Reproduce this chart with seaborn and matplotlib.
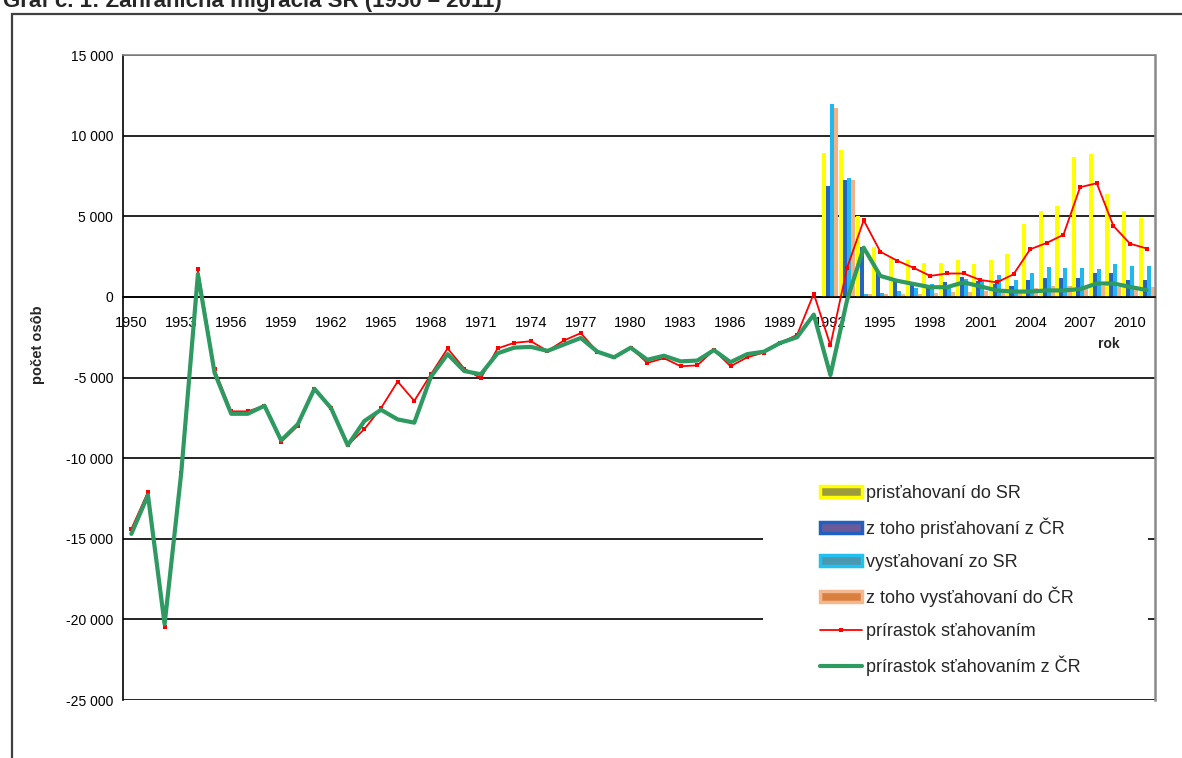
import numpy as np
import pandas as pd
import matplotlib
matplotlib.use("Agg")
import matplotlib.pyplot as plt
import matplotlib.patches as mpatches
from matplotlib.lines import Line2D
from matplotlib.ticker import FuncFormatter
import seaborn as sns

# roky 1950-2011
years = list(range(1950, 2012))

# prirastok stahovanim (SR celkom)
growth_total = [-14400, -12100, -20500, -10900, 1700, -4500, -7100, -7100, -6750, -9000,
                -8000, -5700, -6900, -9200, -8200, -6900, -5250, -6450, -4800, -3200,
                -4450, -5050, -3200, -2850, -2750, -3350, -2700, -2250, -3400, -3750,
                -3150, -4100, -3800, -4300, -4250, -3300, -4300, -3750, -3450, -2850,
                -2350, 200, -3000, 1800, 4750, 2800, 2250, 1800, 1300, 1450,
                1450, 1050, 900, 1400, 2950, 3350, 3850, 6800, 7050, 4400,
                3300, 3000]

# prirastok stahovanim z CR
growth_cz = [-14700, -12300, -20300, -10900, 1400, -4700, -7250, -7250, -6750, -8900,
             -7900, -5700, -6900, -9200, -7700, -7000, -7600, -7800, -4950, -3550,
             -4600, -4800, -3500, -3150, -3100, -3350, -2950, -2550, -3400, -3750,
             -3150, -3900, -3650, -4000, -3950, -3300, -4050, -3550, -3400, -2850,
             -2500, -1100, -4850, -200, 3050, 1300, 1000, 800, 600, 600,
             900, 650, 400, 330, 330, 400, 400, 480, 830, 830,
             620, 420]

# stlpce 1992-2011
bar_years = list(range(1992, 2012))
immig_sr = [8950, 9100, 5000, 3100, 2450, 2300, 2100, 2100, 2300, 2050,
            2300, 2650, 4500, 5350, 5650, 8650, 8850, 6350, 5300, 4900]
immig_cz = [6850, 7250, 3100, 1500, 1100, 900, 750, 900, 1250, 1000,
            800, 650, 1050, 1150, 1150, 1150, 1500, 1500, 1050, 1050]
emig_sr = [11950, 7350, 200, 270, 350, 550, 800, 700, 1100, 1050,
           1350, 1050, 1500, 1850, 1800, 1800, 1750, 2050, 1900, 1900]
emig_cz = [11700, 7250, 150, 150, 200, 200, 250, 300, 300, 350,
           400, 400, 550, 700, 700, 650, 650, 600, 550, 600]

bar_labels = ["prisťahovaní do SR", "z toho prisťahovaní z ČR",
              "vysťahovaní zo SR", "z toho vysťahovaní do ČR"]
line_labels = ["prírastok sťahovaním", "prírastok sťahovaním z ČR"]

bar_colors = ["#FFFF00", "#2563C4", "#22B8EE", "#F4B183"]

sns.set_style("white")
plt.rcParams["font.family"] = ["Liberation Sans", "DejaVu Sans"]

fig = plt.figure(figsize=(11.82, 7.58), dpi=100)
ax = fig.add_axes([123 / 1182, 1 - 700 / 758, 1032 / 1182, 645 / 758])

bars = pd.DataFrame({
    "rok": bar_years * 4,
    "hodnota": immig_sr + immig_cz + emig_sr + emig_cz,
    "seria": np.repeat(bar_labels, len(bar_years)),
})
sns.barplot(data=bars, x="rok", y="hodnota", hue="seria", hue_order=bar_labels,
            palette=bar_colors, native_scale=True, width=0.97, gap=0, dodge=True,
            saturation=1, errorbar=None, legend=False, linewidth=0, zorder=2, ax=ax)

sns.lineplot(x=years, y=growth_total, color="#FF0000", lw=1.3, marker="s",
             markersize=2.5, markeredgewidth=0, zorder=4, ax=ax)
sns.lineplot(x=years, y=growth_cz, color="#2E9960", lw=3, zorder=5, ax=ax)

ax.set_xlim(1949.5, 2011.5)
ax.set_ylim(-25000, 15000)
ax.set_yticks(np.arange(-25000, 15001, 5000))
ax.yaxis.set_major_formatter(FuncFormatter(lambda v, p: f"{int(v):,}".replace(",", " ")))
ax.yaxis.grid(True, color="black", lw=1.2)
ax.xaxis.grid(False)
ax.set_axisbelow(True)

ax.set_xticks(list(range(1950, 2012, 3)))
ax.set_xticklabels([str(y) for y in range(1950, 2012, 3)])
ax.set_xticks(np.arange(1950.5, 2011.5, 1), minor=True)
ax.tick_params(axis="x", which="major", length=0, pad=14, labelsize=10.5, colors="black")
ax.tick_params(axis="x", which="minor", length=4, width=1.2, direction="out", color="black")
ax.tick_params(axis="y", length=4, width=1.2, direction="out", pad=3, labelsize=10, colors="black")
ax.set_xlabel("")
ax.set_ylabel("")

ax.spines["bottom"].set_position(("data", 0))
ax.spines["bottom"].set_color("black")
ax.spines["bottom"].set_linewidth(1.2)
ax.spines["left"].set_color("black")
ax.spines["left"].set_linewidth(1.2)
ax.spines["right"].set_color("#8a8a8a")
ax.spines["right"].set_linewidth(1.8)
ax.spines["top"].set_color("#8a8a8a")
ax.spines["top"].set_linewidth(1.2)

ax.text(2008.7, -2900, "rok", fontsize=10, fontweight="bold", ha="center", va="center")
fig.text(38 / 1182, 1 - 345 / 758, "počet osôb", fontsize=10.5, fontweight="bold",
         rotation=90, ha="center", va="center")

# biele pozadie legendy
ax.add_patch(mpatches.Rectangle((0.62, 0.015), 0.373, 0.357, transform=ax.transAxes,
                                facecolor="white", edgecolor="none", zorder=6))

handles = [
    mpatches.Patch(facecolor="#9c9c3c", edgecolor="#FFFF00", lw=2.5),
    mpatches.Patch(facecolor="#6a5a9a", edgecolor="#2060C0", lw=2.5),
    mpatches.Patch(facecolor="#4a98b0", edgecolor="#20C0F0", lw=2.5),
    mpatches.Patch(facecolor="#D98040", edgecolor="#F4B890", lw=2.5),
    Line2D([], [], color="#FF0000", lw=1.3, marker="s", markersize=3, markeredgewidth=0),
    Line2D([], [], color="#2E9960", lw=3),
]
leg = ax.legend(handles, bar_labels + line_labels, loc="upper left",
                bbox_to_anchor=(820 / 1182, 1 - 485 / 758), bbox_transform=fig.transFigure,
                frameon=False, fontsize=13, labelspacing=0.87, handlelength=2.3,
                handleheight=0.55, handletextpad=0.25, borderpad=0, borderaxespad=0,
                numpoints=1)
leg.set_zorder(7)

# nazov grafu (v predlohe orezany hore)
fig.text(3 / 1182, 1 - 7 / 758, "Graf č. 1: Zahraničná migrácia SR (1950 – 2011)",
         fontsize=16, fontweight="bold", ha="left", va="baseline")

# ramcek okolo grafu
fig.patches.append(mpatches.Rectangle((12 / 1182, -0.05), 1.2, 1 - 14 / 758 + 0.05,
                                      transform=fig.transFigure, fill=False,
                                      edgecolor="#404040", lw=1.6))

fig.savefig("out.png", dpi=100)
plt.close(fig)
